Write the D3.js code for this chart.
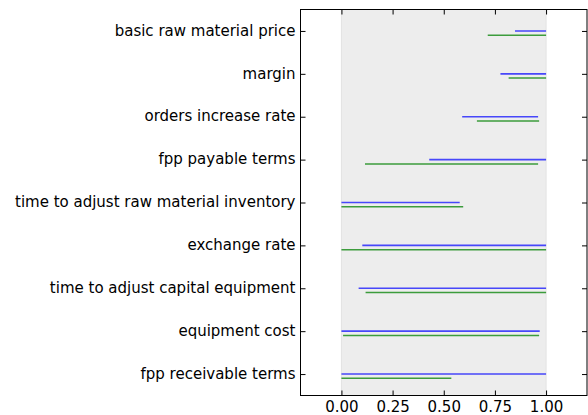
<!DOCTYPE html>
<html>
<head>
<meta charset="utf-8">
<script src="https://cdn.jsdelivr.net/npm/d3@7"></script>
<style>
  html, body { margin: 0; padding: 0; background: #fff; }
  svg { display: block; }
  text { font-family: "DejaVu Sans", sans-serif; fill: #000; }
</style>
</head>
<body>
<svg id="chart" width="588" height="415"></svg>
<script>
// Parameters, listed top to bottom
const categories = [
  "basic raw material price",
  "margin",
  "orders increase rate",
  "fpp payable terms",
  "time to adjust raw material inventory",
  "exchange rate",
  "time to adjust capital equipment",
  "equipment cost",
  "fpp receivable terms"
];
// Interval [low, high] per parameter, first series (blue)
const blueLow  = [0.848, 0.777, 0.590, 0.429, 0.000, 0.102, 0.084, 0.000, 0.000];
const blueHigh = [1.000, 1.000, 0.961, 1.000, 0.578, 1.000, 1.000, 0.969, 1.000];
// Second series (green)
const greenLow  = [0.715, 0.817, 0.662, 0.115, 0.000, 0.000, 0.118, 0.008, 0.000];
const greenHigh = [1.000, 1.000, 0.966, 0.961, 0.595, 1.000, 1.000, 0.966, 0.537];
const xTicks = [0, 0.25, 0.5, 0.75, 1.0];
const bandRange = [0, 1];

const svg = d3.select("#chart");
const plotL = 300.5, plotR = 587, plotT = 9.5, plotB = 395.5;
const fontSize = 15;

const x = d3.scaleLinear().domain([-0.2, 1.2]).range([plotL, plotR]);
const n = categories.length;
// index 0 at the bottom of the axes
const y = d3.scaleLinear().domain([-0.5, n - 0.5]).range([plotB, plotT]);
const pos = i => n - 1 - i;

// shaded unit interval
svg.append("rect")
  .attr("x", x(bandRange[0])).attr("y", plotT)
  .attr("width", x(bandRange[1]) - x(bandRange[0]))
  .attr("height", plotB - plotT)
  .attr("fill", "#ededed")
  .attr("stroke", "#e2e2e2").attr("stroke-width", 1);

const rows = d3.range(n);
const offset = 0.1;

svg.append("g").selectAll("line").data(rows).join("line")
  .attr("x1", i => x(blueLow[i])).attr("x2", i => x(blueHigh[i]))
  .attr("y1", i => y(pos(i))).attr("y2", i => y(pos(i)))
  .attr("stroke", "#0000ff").attr("stroke-opacity", 0.7).attr("stroke-width", 1.6);

svg.append("g").selectAll("line").data(rows).join("line")
  .attr("x1", i => x(greenLow[i])).attr("x2", i => x(greenHigh[i]))
  .attr("y1", i => y(pos(i) - offset)).attr("y2", i => y(pos(i) - offset))
  .attr("stroke", "#008000").attr("stroke-opacity", 0.75).attr("stroke-width", 1.5);

// axes with inward ticks on every side
const fmt = d3.format(".2f");
const tickLen = 5;
const yTickVals = d3.range(n);

const gBottom = svg.append("g").attr("transform", `translate(0,${plotB})`)
  .call(d3.axisBottom(x).tickValues(xTicks).tickFormat(fmt).tickSizeInner(-tickLen).tickSizeOuter(0).tickPadding(6));
const gTop = svg.append("g").attr("transform", `translate(0,${plotT})`)
  .call(d3.axisTop(x).tickValues(xTicks).tickFormat("").tickSizeInner(-tickLen).tickSizeOuter(0));
const gLeft = svg.append("g").attr("transform", `translate(${plotL},0)`)
  .call(d3.axisLeft(y).tickValues(yTickVals).tickFormat(v => categories[n - 1 - v]).tickSizeInner(-tickLen).tickSizeOuter(0).tickPadding(5));
const gRight = svg.append("g").attr("transform", `translate(${plotR},0)`)
  .call(d3.axisRight(y).tickValues(yTickVals).tickFormat("").tickSizeInner(-tickLen).tickSizeOuter(0));

[gBottom, gTop, gLeft, gRight].forEach(g => {
  g.select(".domain").remove();
  g.selectAll(".tick line").attr("stroke", "#000").attr("stroke-width", 1);
  g.selectAll("text").attr("font-family", "DejaVu Sans").attr("font-size", fontSize).attr("fill", "#000");
});
gLeft.selectAll("text").attr("dy", "0.28em");

// frame
svg.append("rect")
  .attr("x", plotL).attr("y", plotT)
  .attr("width", plotR - plotL).attr("height", plotB - plotT)
  .attr("fill", "none").attr("stroke", "#000").attr("stroke-width", 1);
</script>
</body>
</html>
